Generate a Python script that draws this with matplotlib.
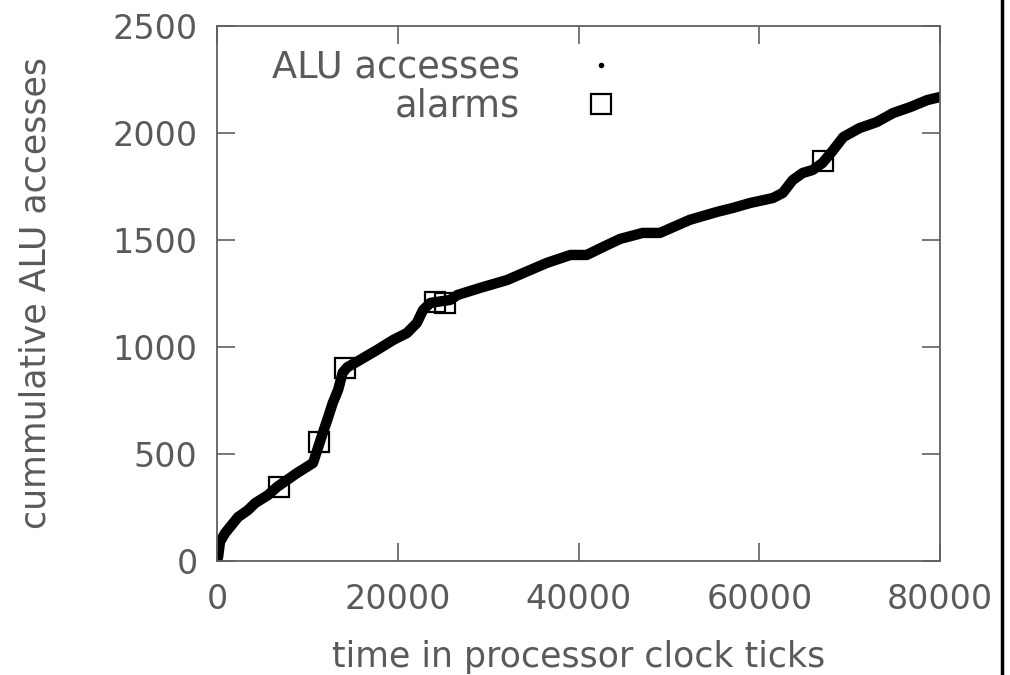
import matplotlib
matplotlib.use("Agg")
import matplotlib.pyplot as plt
from matplotlib.lines import Line2D

# cumulative ALU accesses over time
t = [0, 120, 330, 885, 2320, 3430, 4200, 5640, 6640, 8850, 10620, 11100,
     11700, 12200, 12800, 13400, 13900, 14400, 15800, 17700, 19500, 21000,
     22100, 22800, 23600, 25800, 26600, 29100, 32100, 33900, 36500, 39100,
     40900, 42700, 44600, 47100, 49000, 52300, 55300, 57100, 59000, 61500,
     62600, 63700, 64800, 65900, 67000, 68200, 69300, 71100, 73000, 74800,
     76700, 78600, 80000]
acc = [0, 20, 90, 130, 205, 238, 270, 308, 346, 411, 458, 520,
       598, 660, 738, 800, 880, 905, 939, 986, 1033, 1065,
       1112, 1173, 1206, 1220, 1243, 1276, 1313, 1346, 1393, 1430,
       1430, 1467, 1505, 1533, 1533, 1594, 1631, 1650, 1673, 1696,
       1720, 1780, 1813, 1827, 1860, 1921, 1981, 2023, 2051, 2093,
       2121, 2154, 2168]

# alarms raised
alarm_t = [6800, 11300, 14200, 24100, 25200, 67000]
alarm_acc = [348, 557, 900, 1210, 1205, 1871]

grey = '#5a5a5a'
plt.rcParams['font.family'] = ['DejaVu Sans']

fig = plt.figure(figsize=(10.1, 6.75), dpi=100)
ax = fig.add_axes([0.2149, 0.1689, 0.7158, 0.7926])

ax.plot(t, acc, color='black', linewidth=7.5, solid_capstyle='round',
        solid_joinstyle='round', zorder=2)
ax.plot(alarm_t, alarm_acc, linestyle='none', marker='s', markersize=14,
        markerfacecolor='none', markeredgecolor='black', markeredgewidth=1.6,
        zorder=3)

ax.set_xlim(0, 80000)
ax.set_ylim(0, 2500)
ax.set_xticks([0, 20000, 40000, 60000, 80000])
ax.set_yticks([0, 500, 1000, 1500, 2000, 2500])

for s in ax.spines.values():
    s.set_color('#606060')
    s.set_linewidth(1.3)
ax.tick_params(direction='in', length=13, width=1.2, color='#606060',
               top=True, right=True, labelsize=24, labelcolor=grey)
ax.tick_params(axis='y', pad=14)
ax.tick_params(axis='x', pad=16)

ax.set_xlabel('time in processor clock ticks', fontsize=25, color=grey,
              labelpad=17)
ax.set_ylabel('cummulative ALU accesses', fontsize=25, color=grey)
ax.yaxis.set_label_coords(-0.228, 0.5)

h1 = Line2D([], [], linestyle='none', marker='o', markersize=3,
            color='black')
h2 = Line2D([], [], linestyle='none', marker='s', markersize=14,
            markerfacecolor='none', markeredgecolor='black',
            markeredgewidth=1.6)
leg = ax.legend([h1, h2], ['ALU accesses', 'alarms'], frameon=False,
                markerfirst=False, fontsize=26.5, labelspacing=0.05,
                handlelength=1.6, handletextpad=1.4, loc='upper right',
                bbox_to_anchor=(0.617, 1.019))
for txt in leg.get_texts():
    txt.set_color(grey)

# frame line at the right of the picture
fig.add_artist(Line2D([0.9916, 0.9916], [0, 1], color='black',
                      linewidth=2.5))

fig.savefig('out.png', dpi=100)
